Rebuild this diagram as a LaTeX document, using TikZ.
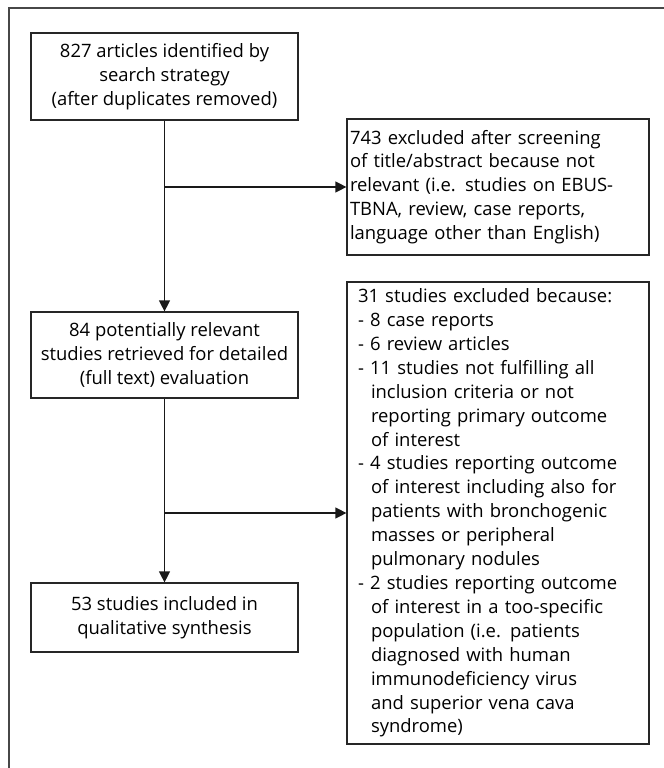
\documentclass[tikz,border=0pt]{standalone}
\usepackage{fontspec}
\setmainfont{Open Sans}
\usetikzlibrary{arrows.meta}
\newcommand\myind{\hspace*{13bp}}
\begin{document}
\begin{tikzpicture}[x=1bp,y=-1bp,
  box/.style={draw=black!85, line width=1.2bp, inner sep=0pt, font=\fontsize{18.5}{24}\selectfont},
  conn/.style={line width=1.2bp, draw=black!90},
  arr/.style={conn, -{Triangle[length=11bp,width=11bp]}}]
\useasboundingbox (0,0) rectangle (664,768);
\fill[white] (0,0) rectangle (664,768);
\draw[line width=1.6bp, draw=black!72] (9,770) -- (9,8) -- (666,8);
\node[box, minimum width=267bp, minimum height=87bp, align=center] (b1) at (164.5,76.5)
  {827 articles identified by\\search strategy\\(after duplicates removed)};
\node[box, minimum width=302bp, minimum height=136bp, text width=296bp, align=left] (b2) at (498,187)
  {743 excluded after screening\\of title/abstract because not\\relevant (i.e. studies on EBUS-\\TBNA, review, case reports,\\language other than English)};
\node[box, minimum width=267bp, minimum height=86bp, align=center] (b3) at (164.5,355)
  {84 potentially relevant\\studies retrieved for detailed\\(full text) evaluation};
\node[box, minimum width=302bp, minimum height=462bp, text width=280bp, align=left] (b4) at (498,513)
  {31 studies excluded because:\\
- 8 case reports\\
- 6 review articles\\
- 11 studies not fulfilling all\\
\myind inclusion criteria or not\\
\myind reporting primary outcome\\
\myind of interest\\
- 4 studies reporting outcome\\
\myind of interest including also for\\
\myind patients with bronchogenic\\
\myind masses or peripheral\\
\myind pulmonary nodules\\
- 2 studies reporting outcome\\
\myind of interest in a too-specific\\
\myind population (i.e. patients\\
\myind diagnosed with human\\
\myind immunodeficiency virus\\
\myind and superior vena cava\\
\myind syndrome)};
\node[box, minimum width=267bp, minimum height=69bp, align=center] (b5) at (164.5,617.5)
  {53 studies included in\\qualitative synthesis};
\coordinate (j1) at (b1.south |- b2.west);
\coordinate (j2) at (b3.south |- b4.west);
\draw[arr] (b1.south) -- (b3.north);
\draw[arr] (j1) -- (b2.west);
\draw[arr] (b3.south) -- (b5.north);
\draw[arr] (j2) -- (b4.west);
\end{tikzpicture}
\end{document}
